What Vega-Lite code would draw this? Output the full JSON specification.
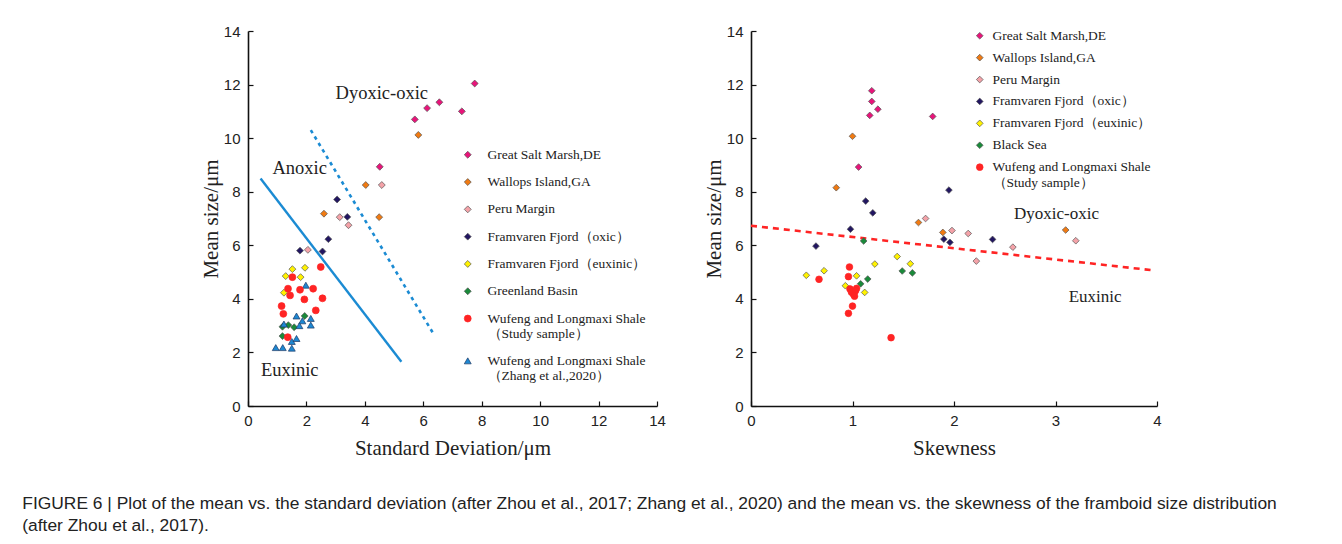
{
  "$schema": "https://vega.github.io/schema/vega-lite/v6.json",
  "background": "white",
  "padding": {"left": 22, "top": 24, "right": 0, "bottom": 0},
  "autosize": {"type": "pad"},
  "spacing": 37,
  "title": {
    "text": ["FIGURE 6 | Plot of the mean vs. the standard deviation (after Zhou et al., 2017; Zhang et al., 2020) and the mean vs. the skewness of the framboid size distribution", "(after Zhou et al., 2017)."],
    "orient": "bottom",
    "anchor": "start",
    "frame": "bounds",
    "font": "Liberation Sans",
    "fontSize": 17.4,
    "fontWeight": "normal",
    "color": "#222",
    "lineHeight": 22,
    "offset": 37,
    "dx": -178
  },
  "datasets": {
    "sd": [
      {"series": "Great Salt Marsh,DE", "sd": 7.76, "mean": 12.04},
      {"series": "Great Salt Marsh,DE", "sd": 6.55, "mean": 11.34},
      {"series": "Great Salt Marsh,DE", "sd": 6.13, "mean": 11.12},
      {"series": "Great Salt Marsh,DE", "sd": 5.71, "mean": 10.70},
      {"series": "Great Salt Marsh,DE", "sd": 7.32, "mean": 11.0},
      {"series": "Great Salt Marsh,DE", "sd": 4.51, "mean": 8.93},
      {"series": "Wallops Island,GA", "sd": 5.83, "mean": 10.12},
      {"series": "Wallops Island,GA", "sd": 4.03, "mean": 8.25},
      {"series": "Wallops Island,GA", "sd": 2.60, "mean": 7.18},
      {"series": "Wallops Island,GA", "sd": 4.49, "mean": 7.05},
      {"series": "Peru  Margin", "sd": 4.58, "mean": 8.25},
      {"series": "Peru  Margin", "sd": 3.14, "mean": 7.05},
      {"series": "Peru  Margin", "sd": 3.44, "mean": 6.75},
      {"series": "Peru  Margin", "sd": 2.05, "mean": 5.83},
      {"series": "Framvaren Fjord（oxic）", "sd": 3.05, "mean": 7.71},
      {"series": "Framvaren Fjord（oxic）", "sd": 3.40, "mean": 7.06},
      {"series": "Framvaren Fjord（oxic）", "sd": 2.75, "mean": 6.23},
      {"series": "Framvaren Fjord（oxic）", "sd": 1.78, "mean": 5.80},
      {"series": "Framvaren Fjord（oxic）", "sd": 2.55, "mean": 5.77},
      {"series": "Framvaren Fjord（euxinic）", "sd": 1.52, "mean": 5.11},
      {"series": "Framvaren Fjord（euxinic）", "sd": 1.95, "mean": 5.16},
      {"series": "Framvaren Fjord（euxinic）", "sd": 1.29, "mean": 4.85},
      {"series": "Framvaren Fjord（euxinic）", "sd": 1.80, "mean": 4.81},
      {"series": "Framvaren Fjord（euxinic）", "sd": 1.23, "mean": 4.23},
      {"series": "Greenland Basin", "sd": 1.18, "mean": 2.96},
      {"series": "Greenland Basin", "sd": 1.38, "mean": 3.02},
      {"series": "Greenland Basin", "sd": 1.58, "mean": 2.94},
      {"series": "Greenland Basin", "sd": 1.94, "mean": 3.36},
      {"series": "Greenland Basin", "sd": 1.18, "mean": 2.61},
      {"series": "Wufeng and Longmaxi Shale|（Zhang et al.,2020）", "sd": 0.95, "mean": 2.18},
      {"series": "Wufeng and Longmaxi Shale|（Zhang et al.,2020）", "sd": 1.19, "mean": 2.18},
      {"series": "Wufeng and Longmaxi Shale|（Zhang et al.,2020）", "sd": 1.50, "mean": 2.16},
      {"series": "Wufeng and Longmaxi Shale|（Zhang et al.,2020）", "sd": 1.50, "mean": 2.41},
      {"series": "Wufeng and Longmaxi Shale|（Zhang et al.,2020）", "sd": 1.66, "mean": 2.52},
      {"series": "Wufeng and Longmaxi Shale|（Zhang et al.,2020）", "sd": 1.66, "mean": 3.36},
      {"series": "Wufeng and Longmaxi Shale|（Zhang et al.,2020）", "sd": 1.86, "mean": 3.18},
      {"series": "Wufeng and Longmaxi Shale|（Zhang et al.,2020）", "sd": 2.15, "mean": 3.27},
      {"series": "Wufeng and Longmaxi Shale|（Zhang et al.,2020）", "sd": 2.15, "mean": 3.02},
      {"series": "Wufeng and Longmaxi Shale|（Zhang et al.,2020）", "sd": 1.98, "mean": 4.51},
      {"series": "Wufeng and Longmaxi Shale|（Zhang et al.,2020）", "sd": 1.23, "mean": 3.06},
      {"series": "Wufeng and Longmaxi Shale|（Zhang et al.,2020）", "sd": 1.76, "mean": 3.00},
      {"series": "Wufeng and Longmaxi Shale|（Study  sample）", "sd": 1.52, "mean": 4.81},
      {"series": "Wufeng and Longmaxi Shale|（Study  sample）", "sd": 1.37, "mean": 4.38},
      {"series": "Wufeng and Longmaxi Shale|（Study  sample）", "sd": 1.44, "mean": 4.13},
      {"series": "Wufeng and Longmaxi Shale|（Study  sample）", "sd": 1.78, "mean": 4.34},
      {"series": "Wufeng and Longmaxi Shale|（Study  sample）", "sd": 2.23, "mean": 4.38},
      {"series": "Wufeng and Longmaxi Shale|（Study  sample）", "sd": 1.93, "mean": 3.98},
      {"series": "Wufeng and Longmaxi Shale|（Study  sample）", "sd": 2.55, "mean": 4.02},
      {"series": "Wufeng and Longmaxi Shale|（Study  sample）", "sd": 2.49, "mean": 5.19},
      {"series": "Wufeng and Longmaxi Shale|（Study  sample）", "sd": 2.32, "mean": 3.57},
      {"series": "Wufeng and Longmaxi Shale|（Study  sample）", "sd": 1.15, "mean": 3.73},
      {"series": "Wufeng and Longmaxi Shale|（Study  sample）", "sd": 1.21, "mean": 3.44},
      {"series": "Wufeng and Longmaxi Shale|（Study  sample）", "sd": 1.36, "mean": 2.57}
    ],
    "skew": [
      {"series": "Great Salt Marsh,DE", "skew": 1.19, "mean": 11.77},
      {"series": "Great Salt Marsh,DE", "skew": 1.19, "mean": 11.37},
      {"series": "Great Salt Marsh,DE", "skew": 1.25, "mean": 11.08},
      {"series": "Great Salt Marsh,DE", "skew": 1.17, "mean": 10.85},
      {"series": "Great Salt Marsh,DE", "skew": 1.79, "mean": 10.81},
      {"series": "Great Salt Marsh,DE", "skew": 1.06, "mean": 8.92},
      {"series": "Wallops Island,GA", "skew": 1.00, "mean": 10.07},
      {"series": "Wallops Island,GA", "skew": 0.84, "mean": 8.15},
      {"series": "Wallops Island,GA", "skew": 1.65, "mean": 6.85},
      {"series": "Wallops Island,GA", "skew": 1.89, "mean": 6.48},
      {"series": "Wallops Island,GA", "skew": 3.10, "mean": 6.57},
      {"series": "Peru  Margin", "skew": 1.72, "mean": 7.00},
      {"series": "Peru  Margin", "skew": 1.98, "mean": 6.55},
      {"series": "Peru  Margin", "skew": 2.14, "mean": 6.44},
      {"series": "Peru  Margin", "skew": 2.22, "mean": 5.41},
      {"series": "Peru  Margin", "skew": 2.58, "mean": 5.93},
      {"series": "Peru  Margin", "skew": 3.20, "mean": 6.17},
      {"series": "Framvaren Fjord（oxic）", "skew": 1.13, "mean": 7.65},
      {"series": "Framvaren Fjord（oxic）", "skew": 1.20, "mean": 7.21},
      {"series": "Framvaren Fjord（oxic）", "skew": 0.98, "mean": 6.60},
      {"series": "Framvaren Fjord（oxic）", "skew": 0.64, "mean": 5.97},
      {"series": "Framvaren Fjord（oxic）", "skew": 1.95, "mean": 8.06},
      {"series": "Framvaren Fjord（oxic）", "skew": 1.90, "mean": 6.23},
      {"series": "Framvaren Fjord（oxic）", "skew": 1.96, "mean": 6.11},
      {"series": "Framvaren Fjord（oxic）", "skew": 2.38, "mean": 6.22},
      {"series": "Framvaren Fjord（euxinic）", "skew": 0.545, "mean": 4.88},
      {"series": "Framvaren Fjord（euxinic）", "skew": 0.72, "mean": 5.05},
      {"series": "Framvaren Fjord（euxinic）", "skew": 1.04, "mean": 4.86},
      {"series": "Framvaren Fjord（euxinic）", "skew": 0.93, "mean": 4.49},
      {"series": "Framvaren Fjord（euxinic）", "skew": 1.12, "mean": 4.24},
      {"series": "Framvaren Fjord（euxinic）", "skew": 1.22, "mean": 5.30},
      {"series": "Framvaren Fjord（euxinic）", "skew": 1.44, "mean": 5.58},
      {"series": "Framvaren Fjord（euxinic）", "skew": 1.57, "mean": 5.31},
      {"series": "Black Sea", "skew": 1.11, "mean": 6.16},
      {"series": "Black Sea", "skew": 1.15, "mean": 4.74},
      {"series": "Black Sea", "skew": 1.08, "mean": 4.56},
      {"series": "Black Sea", "skew": 1.49, "mean": 5.04},
      {"series": "Black Sea", "skew": 1.59, "mean": 4.97},
      {"series": "Wufeng and Longmaxi Shale|（Study  sample）", "skew": 0.97, "mean": 5.19},
      {"series": "Wufeng and Longmaxi Shale|（Study  sample）", "skew": 0.96, "mean": 4.83},
      {"series": "Wufeng and Longmaxi Shale|（Study  sample）", "skew": 0.67, "mean": 4.73},
      {"series": "Wufeng and Longmaxi Shale|（Study  sample）", "skew": 0.975, "mean": 4.37},
      {"series": "Wufeng and Longmaxi Shale|（Study  sample）", "skew": 1.04, "mean": 4.39},
      {"series": "Wufeng and Longmaxi Shale|（Study  sample）", "skew": 1.01, "mean": 4.17},
      {"series": "Wufeng and Longmaxi Shale|（Study  sample）", "skew": 1.00, "mean": 3.73},
      {"series": "Wufeng and Longmaxi Shale|（Study  sample）", "skew": 0.96, "mean": 3.46},
      {"series": "Wufeng and Longmaxi Shale|（Study  sample）", "skew": 1.38, "mean": 2.55},
      {"series": "Wufeng and Longmaxi Shale|（Study  sample）", "skew": 0.99, "mean": 4.25},
      {"series": "Wufeng and Longmaxi Shale|（Study  sample）", "skew": 1.03, "mean": 4.30},
      {"series": "Wufeng and Longmaxi Shale|（Study  sample）", "skew": 1.02, "mean": 4.10}
    ],
    "lines": [
      {"id": "anoxic", "x": 0.43, "y": 8.49},
      {"id": "anoxic", "x": 5.25, "y": 1.65},
      {"id": "oxic", "x": 2.15, "y": 10.30},
      {"id": "oxic", "x": 6.34, "y": 2.71},
      {"id": "skewline", "x": 0, "y": 6.73},
      {"id": "skewline", "x": 3.95, "y": 5.07}
    ],
    "notes": [
      {"panel": "sd", "label": "Dyoxic-oxic", "x": 4.58, "y": 11.7},
      {"panel": "sd", "label": "Anoxic", "x": 1.77, "y": 8.89},
      {"panel": "sd", "label": "Euxinic", "x": 1.43, "y": 1.34},
      {"panel": "skew", "label": "Dyoxic-oxic", "x": 3.01, "y": 7.16},
      {"panel": "skew", "label": "Euxinic", "x": 3.39, "y": 4.06}
    ]
  },
  "hconcat": [
    {
      "width": 409,
      "height": 375,
      "layer": [
        {
          "data": {"name": "lines"},
          "transform": [{"filter": "datum.id === 'anoxic'"}],
          "mark": {"type": "line", "color": "#1b8bd3", "strokeWidth": 2.4},
          "encoding": {
            "x": {"field": "x", "type": "quantitative", "scale": {"domain": [0, 14]},
              "axis": {"title": "Standard Deviation/μm", "values": [0, 2, 4, 6, 8, 10, 12, 14], "format": "d", "titleFont": "Liberation Serif"}},
            "y": {"field": "y", "type": "quantitative", "scale": {"domain": [0, 14]},
              "axis": {"title": "Mean size/μm", "values": [0, 2, 4, 6, 8, 10, 12, 14], "format": "d", "titleFont": "Liberation Serif"}}
          }
        },
        {
          "data": {"name": "lines"},
          "transform": [{"filter": "datum.id === 'oxic'"}],
          "mark": {"type": "line", "color": "#1b8bd3", "strokeWidth": 2.6, "strokeDash": [3.5, 4]},
          "encoding": {
            "x": {"field": "x", "type": "quantitative"},
            "y": {"field": "y", "type": "quantitative"}
          }
        },
        {
          "data": {"name": "notes"},
          "transform": [{"filter": "datum.panel === 'sd'"}],
          "mark": {"type": "text", "font": "Liberation Serif", "fontSize": 18.5, "color": "#222", "align": "center", "baseline": "middle"},
          "encoding": {
            "x": {"field": "x", "type": "quantitative"},
            "y": {"field": "y", "type": "quantitative"},
            "text": {"field": "label"}
          }
        },
        {
          "data": {"name": "sd"},
          "mark": {"type": "point", "filled": true, "opacity": 1, "strokeWidth": 0.7},
          "encoding": {
            "x": {"field": "sd", "type": "quantitative"},
            "y": {"field": "mean", "type": "quantitative"},
            "fill": {"field": "series", "type": "nominal",
              "scale": {"domain": ["Great Salt Marsh,DE", "Wallops Island,GA", "Peru  Margin", "Framvaren Fjord（oxic）", "Framvaren Fjord（euxinic）", "Greenland Basin", "Wufeng and Longmaxi Shale|（Study  sample）", "Wufeng and Longmaxi Shale|（Zhang et al.,2020）"],
                "range": ["#e8147a", "#f07a12", "#f4a2a8", "#221661", "#fff200", "#1a8a3a", "#ff2424", "#1e88d2"]},
              "legend": {"orient": "none", "legendX": 213, "legendY": 117, "title": null, "labelFont": "Liberation Serif", "labelFontSize": 13.5, "labelColor": "#222", "labelLimit": 300, "labelOffset": 13, "rowPadding": 12.3, "padding": 0, "labelExpr": "split(datum.label, '|')", "symbolStrokeWidth": 0.7}},
            "stroke": {"field": "series", "type": "nominal",
              "scale": {"domain": ["Great Salt Marsh,DE", "Wallops Island,GA", "Peru  Margin", "Framvaren Fjord（oxic）", "Framvaren Fjord（euxinic）", "Greenland Basin", "Wufeng and Longmaxi Shale|（Study  sample）", "Wufeng and Longmaxi Shale|（Zhang et al.,2020）"],
                "range": ["#555555", "#555555", "#555555", "#555555", "#555555", "#555555", "#ff2424", "#1d3a66"]}},
            "shape": {"field": "series", "type": "nominal",
              "scale": {"domain": ["Great Salt Marsh,DE", "Wallops Island,GA", "Peru  Margin", "Framvaren Fjord（oxic）", "Framvaren Fjord（euxinic）", "Greenland Basin", "Wufeng and Longmaxi Shale|（Study  sample）", "Wufeng and Longmaxi Shale|（Zhang et al.,2020）"],
                "range": ["diamond", "diamond", "diamond", "diamond", "diamond", "diamond", "circle", "triangle-up"]}},
            "size": {"field": "series", "type": "nominal",
              "scale": {"domain": ["Great Salt Marsh,DE", "Wallops Island,GA", "Peru  Margin", "Framvaren Fjord（oxic）", "Framvaren Fjord（euxinic）", "Greenland Basin", "Wufeng and Longmaxi Shale|（Study  sample）", "Wufeng and Longmaxi Shale|（Zhang et al.,2020）"],
                "range": [48, 48, 48, 48, 48, 48, 115, 60]}}
          }
        }
      ]
    },
    {
      "width": 406,
      "height": 375,
      "layer": [
        {
          "data": {"name": "lines"},
          "transform": [{"filter": "datum.id === 'skewline'"}],
          "mark": {"type": "line", "color": "#ff2424", "strokeWidth": 2.6, "strokeDash": [6, 5]},
          "encoding": {
            "x": {"field": "x", "type": "quantitative", "scale": {"domain": [0, 4]},
              "axis": {"title": "Skewness", "values": [0, 1, 2, 3, 4], "format": "d", "titleFont": "Liberation Serif"}},
            "y": {"field": "y", "type": "quantitative", "scale": {"domain": [0, 14]},
              "axis": {"title": "Mean size/μm", "values": [0, 2, 4, 6, 8, 10, 12, 14], "format": "d", "titleFont": "Liberation Serif"}}
          }
        },
        {
          "data": {"name": "notes"},
          "transform": [{"filter": "datum.panel === 'skew'"}],
          "mark": {"type": "text", "font": "Liberation Serif", "fontSize": 17, "color": "#222", "align": "center", "baseline": "middle"},
          "encoding": {
            "x": {"field": "x", "type": "quantitative"},
            "y": {"field": "y", "type": "quantitative"},
            "text": {"field": "label"}
          }
        },
        {
          "data": {"name": "skew"},
          "mark": {"type": "point", "filled": true, "opacity": 1, "strokeWidth": 0.7},
          "encoding": {
            "x": {"field": "skew", "type": "quantitative"},
            "y": {"field": "mean", "type": "quantitative"},
            "fill": {"field": "series", "type": "nominal",
              "scale": {"domain": ["Great Salt Marsh,DE", "Wallops Island,GA", "Peru  Margin", "Framvaren Fjord（oxic）", "Framvaren Fjord（euxinic）", "Black Sea", "Wufeng and Longmaxi Shale|（Study  sample）"],
                "range": ["#e8147a", "#f07a12", "#f4a2a8", "#221661", "#fff200", "#1a8a3a", "#ff2424"]},
              "legend": {"orient": "none", "legendX": 222, "legendY": -2, "title": null, "labelFont": "Liberation Serif", "labelFontSize": 13.5, "labelColor": "#222", "labelLimit": 300, "labelOffset": 6, "rowPadding": 6.9, "padding": 0, "labelExpr": "split(datum.label, '|')", "symbolStrokeWidth": 0.7}},
            "stroke": {"field": "series", "type": "nominal",
              "scale": {"domain": ["Great Salt Marsh,DE", "Wallops Island,GA", "Peru  Margin", "Framvaren Fjord（oxic）", "Framvaren Fjord（euxinic）", "Black Sea", "Wufeng and Longmaxi Shale|（Study  sample）"],
                "range": ["#555555", "#555555", "#555555", "#555555", "#555555", "#555555", "#ff2424"]}},
            "shape": {"field": "series", "type": "nominal",
              "scale": {"domain": ["Great Salt Marsh,DE", "Wallops Island,GA", "Peru  Margin", "Framvaren Fjord（oxic）", "Framvaren Fjord（euxinic）", "Black Sea", "Wufeng and Longmaxi Shale|（Study  sample）"],
                "range": ["diamond", "diamond", "diamond", "diamond", "diamond", "diamond", "circle"]}},
            "size": {"field": "series", "type": "nominal",
              "scale": {"domain": ["Great Salt Marsh,DE", "Wallops Island,GA", "Peru  Margin", "Framvaren Fjord（oxic）", "Framvaren Fjord（euxinic）", "Black Sea", "Wufeng and Longmaxi Shale|（Study  sample）"],
                "range": [45, 45, 45, 45, 45, 45, 105]}}
          }
        }
      ]
    }
  ],
  "resolve": {
    "scale": {"fill": "independent", "stroke": "independent", "shape": "independent", "size": "independent", "x": "independent"},
    "legend": {"fill": "independent", "stroke": "independent", "shape": "independent", "size": "independent"}
  },
  "config": {
    "view": {"stroke": null},
    "axis": {
      "grid": false,
      "labelFlush": false,
      "domainColor": "#111",
      "domainWidth": 1.6,
      "tickColor": "#111",
      "tickWidth": 1.2,
      "tickSize": -5,
      "labelPadding": 12,
      "labelFont": "Liberation Sans",
      "labelFontSize": 15,
      "labelColor": "#222",
      "titleFont": "Liberation Serif",
      "titleFontSize": 21,
      "titleFontWeight": "normal",
      "titleColor": "#222"
    },
    "axisX": {"titlePadding": 9},
    "axisY": {"titlePadding": 2, "labelPadding": 13}
  }
}
